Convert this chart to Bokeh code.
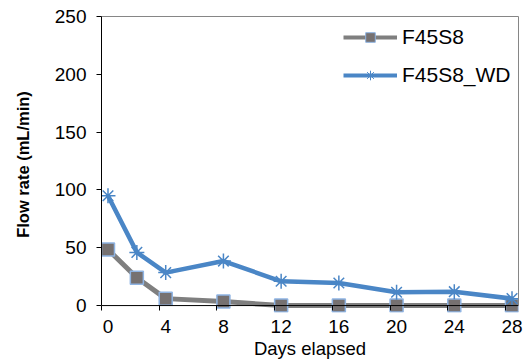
from bokeh.plotting import figure
from bokeh.models import (Range1d, FixedTicker, Legend, LegendItem, ColumnDataSource,
                          LinearAxis, Span)
from bokeh.embed import file_html
from bokeh.resources import INLINE

days = [0, 2, 4, 8, 12, 16, 20, 24, 28]
f45s8 = [48.5, 24, 6, 3.5, 0, 0, 0, 0, 0]
f45s8_wd = [95, 46, 28.5, 38.5, 21, 19.5, 11.5, 12, 6]
x_ticks = [0, 4, 8, 12, 16, 20, 24, 28]
y_ticks = [0, 50, 100, 150, 200, 250]

FONT = "Liberation Sans"
GRAY_LINE = "#7f7f7f"
SQ_FILL = "#767171"
SQ_EDGE = "#8fb4e3"
BLUE = "#4a86c6"
BORDER = "#868686"

p = figure(width=529, height=362, output_backend="svg", toolbar_location=None,
           x_range=Range1d(-0.45, 28.45), y_range=Range1d(-6, 250),
           min_border_left=101, min_border_right=11, min_border_top=16, min_border_bottom=50)
p.grid.visible = False
p.outline_line_color = None
p.background_fill_color = "white"
p.border_fill_color = "white"

src = ColumnDataSource(dict(x=days, a=f45s8, b=f45s8_wd))

# x axis line at y = 0
p.add_layout(Span(location=0, dimension="width", line_color="black", line_width=1))

p.line("x", "a", source=src, line_color=GRAY_LINE, line_width=5)
p.scatter("x", "a", source=src, marker="square", size=13, fill_color=SQ_FILL,
          line_color=SQ_EDGE, line_width=1.5)
p.line("x", "b", source=src, line_color=BLUE, line_width=4.5)
p.scatter("x", "b", source=src, marker="asterisk", size=15, line_color=BLUE, line_width=1.5)

# legend-only (hidden) renderers with smaller markers, as in the reference legend
la = p.line("x", "a", source=src, line_color=GRAY_LINE, line_width=4, visible=False)
sa = p.scatter("x", "a", source=src, marker="square", size=9, fill_color=SQ_FILL,
               line_color=SQ_EDGE, line_width=1, visible=False)
lb = p.line("x", "b", source=src, line_color=BLUE, line_width=4, visible=False)
sb = p.scatter("x", "b", source=src, marker="asterisk", size=9, line_color=BLUE,
               line_width=1, visible=False)

legend = Legend(items=[LegendItem(label="F45S8", renderers=[la, sa]),
                       LegendItem(label="F45S8_WD", renderers=[lb, sb])],
                location=(242, 225), padding=0, margin=0, spacing=14,
                glyph_width=54, glyph_height=24, label_height=24, label_standoff=5,
                label_text_font=FONT, label_text_font_size="21px", label_text_color="black",
                border_line_color=None, background_fill_alpha=0,
                inactive_fill_alpha=0, click_policy="none")
p.add_layout(legend, "center")

# x axis (line hidden; the Span above draws it at y = 0)
xa = p.xaxis[0]
xa.ticker = FixedTicker(ticks=x_ticks,
                        minor_ticks=[-0.45 + 4 * k for k in range(8)])
xa.axis_line_color = None
xa.major_tick_out = 0
xa.major_tick_in = 0
xa.minor_tick_in = 7
xa.minor_tick_out = -2
xa.minor_tick_line_color = "black"
xa.major_label_text_font = FONT
xa.major_label_text_font_size = "19px"
xa.major_label_text_color = "black"
xa.major_label_standoff = 7
xa.axis_label = "Days elapsed"
xa.axis_label_text_font = FONT
xa.axis_label_text_font_size = "18.5px"
xa.axis_label_text_font_style = "normal"
xa.axis_label_text_color = "black"
xa.axis_label_standoff = 2

# y axis
ya = p.yaxis[0]
ya.bounds = (0, 250)
ya.ticker = FixedTicker(ticks=y_ticks)
ya.major_tick_out = 5
ya.major_tick_in = 0
ya.minor_tick_out = 0
ya.minor_tick_in = 0
ya.axis_line_color = "black"
ya.major_tick_line_color = "black"
ya.major_label_text_font = FONT
ya.major_label_text_font_size = "19px"
ya.major_label_text_color = "black"
ya.major_label_standoff = 10
ya.axis_label = "Flow rate (mL/min)"
ya.axis_label_text_font = FONT
ya.axis_label_text_font_size = "16.5px"
ya.axis_label_text_font_style = "bold"
ya.axis_label_text_color = "black"
ya.axis_label_standoff = 20

# gray frame border on top and right
top_ax = LinearAxis(ticker=FixedTicker(ticks=[]), axis_line_color=BORDER,
                    major_tick_line_color=None, minor_tick_line_color=None,
                    major_label_text_font_size="0px", major_label_standoff=0)
right_ax = LinearAxis(ticker=FixedTicker(ticks=[]), axis_line_color=BORDER, bounds=(0, 250),
                      major_tick_line_color=None, minor_tick_line_color=None,
                      major_label_text_font_size="0px", major_label_standoff=0)
p.add_layout(top_ax, "above")
p.add_layout(right_ax, "right")

open("out.html", "w").write(file_html(p, INLINE))
